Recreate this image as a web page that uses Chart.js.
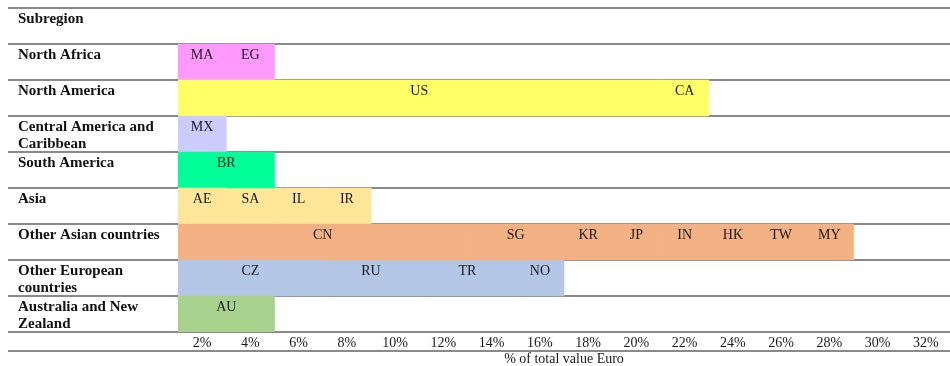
<!DOCTYPE html>
<html>
<head>
<meta charset="utf-8">
<script src="https://cdn.jsdelivr.net/npm/chart.js@4.4.1/dist/chart.umd.min.js"></script>
<style>
  html, body { margin: 0; padding: 0; background: #fff; }
</style>
</head>
<body>
<canvas id="chart" width="950" height="366"></canvas>
<script>
// rows of the table, top to bottom (two lines each so the text sits at the top of the row)
const subregions = [
  ['Subregion', ''],
  ['North Africa', ''],
  ['North America', ''],
  ['Central America and', 'Caribbean'],
  ['South America', ''],
  ['Asia', ''],
  ['Other Asian countries', ''],
  ['Other European', 'countries'],
  ['Australia and New', 'Zealand']
];

// countries in each row, and their share of total value (% Euro)
const countries = [
  [],
  ['MA', 'EG'],
  ['US', 'CA'],
  ['MX'],
  ['BR'],
  ['AE', 'SA', 'IL', 'IR'],
  ['CN', 'SG', 'KR', 'JP', 'IN', 'HK', 'TW', 'MY'],
  ['CZ', 'RU', 'TR', 'NO'],
  ['AU']
];
const shares = [
  [],
  [2, 2],
  [20, 2],
  [2],
  [4],
  [2, 2, 2, 2],
  [12, 4, 2, 2, 2, 2, 2, 2],
  [6, 4, 4, 2],
  [4]
];
const rowColors = ['#ffffff', '#ff99ff', '#ffff66', '#ccccff', '#00ff99', '#ffe699', '#f4b183', '#b4c7e7', '#a9d18e'];

const tickLabels = ['2%', '4%', '6%', '8%', '10%', '12%', '14%', '16%', '18%', '20%', '22%', '24%', '26%', '28%', '30%', '32%'];

const FONT = "'Liberation Serif', 'Times New Roman', serif";
const LINE = '#8a8a8a';

Chart.defaults.font.family = FONT;
Chart.defaults.font.size = 14;
Chart.defaults.color = '#1a1a1a';

// one dataset per position inside a row
const slots = Math.max(...shares.map(r => r.length));
const datasets = [];
for (let s = 0; s < slots; s++) {
  datasets.push({
    label: 'slot ' + (s + 1),
    data: shares.map(r => (r[s] !== undefined ? r[s] : null)),
    countries: countries.map(r => r[s] || ''),
    backgroundColor: rowColors,
    borderWidth: 0,
    barPercentage: 1,
    categoryPercentage: 1
  });
}

// country codes near the top of each segment
const countryLabels = {
  id: 'countryLabels',
  afterDatasetsDraw(chart) {
    const { ctx } = chart;
    ctx.save();
    ctx.font = '14px ' + FONT;
    ctx.fillStyle = '#1a1a1a';
    ctx.textAlign = 'center';
    ctx.textBaseline = 'middle';
    chart.data.datasets.forEach((ds, i) => {
      chart.getDatasetMeta(i).data.forEach((bar, j) => {
        const name = ds.countries[j];
        if (!name || ds.data[j] == null) return;
        const p = bar.getProps(['x', 'y', 'base', 'height'], true);
        ctx.fillText(name, (p.x + p.base) / 2, p.y - p.height / 2 + 11.5);
      });
    });
    ctx.restore();
  }
};

// closing rule under the tick label row
const bottomRule = {
  id: 'bottomRule',
  afterDraw(chart) {
    const { ctx } = chart;
    const y = chart.scales.x.top + 19;
    ctx.save();
    ctx.strokeStyle = LINE;
    ctx.lineWidth = 2;
    ctx.beginPath();
    ctx.moveTo(8, y);
    ctx.lineTo(chart.width, y);
    ctx.stroke();
    ctx.restore();
  }
};

new Chart(document.getElementById('chart'), {
  type: 'bar',
  data: { labels: subregions, datasets },
  options: {
    responsive: false,
    animation: false,
    indexAxis: 'y',
    layout: { padding: { top: 8, left: 18, right: 0, bottom: 0 } },
    plugins: { legend: { display: false }, tooltip: { enabled: false } },
    scales: {
      y: {
        stacked: true,
        z: 1,
        border: { display: false },
        grid: { offset: true, color: LINE, lineWidth: 2, tickLength: 170, drawTicks: true, tickColor: LINE },
        ticks: {
          autoSkip: false,
          crossAlign: 'far',
          labelOffset: 2,
          font: { family: FONT, size: 15, weight: 'bold', lineHeight: 1.13 },
          color: '#111111'
        },
        afterFit(scale) {
          scale.width = 160;
          scale.paddingTop = 0;
          scale.paddingBottom = 0;
        }
      },
      x: {
        stacked: true,
        min: 0,
        max: 32,
        border: { display: false },
        grid: { display: false, drawTicks: false },
        afterBuildTicks(scale) {
          scale.ticks = tickLabels.map((t, i) => ({ value: i * 2 + 1 }));
        },
        ticks: {
          padding: 3,
          maxRotation: 0,
          autoSkip: false,
          callback: (v) => tickLabels[(v - 1) / 2]
        },
        title: {
          display: true,
          text: '% of total value Euro',
          font: { family: FONT, size: 14, lineHeight: 1 },
          padding: { top: 0, bottom: 0 }
        },
        afterFit(scale) {
          scale.height = 34;
          scale.paddingLeft = 0;
          scale.paddingRight = 0;
        }
      }
    }
  },
  plugins: [countryLabels, bottomRule]
});
</script>
</body>
</html>
